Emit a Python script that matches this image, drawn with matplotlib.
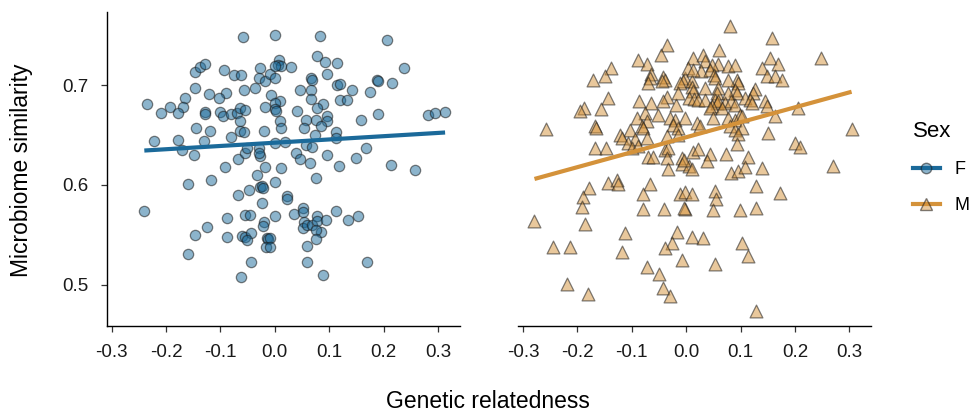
import numpy as np
import matplotlib
matplotlib.use("Agg")
import matplotlib.pyplot as plt
from matplotlib.lines import Line2D

plt.rcParams['font.family'] = ['Liberation Sans', 'DejaVu Sans']

# female (F): genetic relatedness vs microbiome similarity
f_x = [-0.059, 0.000, -0.147, -0.138, -0.128, -0.094, -0.075, -0.062, -0.027, -0.029,
       -0.018, -0.009, -0.147, -0.122, -0.090, -0.103, -0.057, -0.037, -0.008, -0.165,
       -0.168, -0.192, -0.178, -0.210, -0.235, -0.128, -0.129, -0.100, -0.095, -0.081,
       -0.070, -0.064, -0.054, -0.019, -0.145, -0.119, -0.064, -0.064, -0.057, -0.081,
       -0.020, -0.222, -0.179, -0.130, -0.171, -0.149, -0.067, -0.055, -0.052, -0.029,
       -0.027, -0.029, -0.091, -0.019, 0.012, 0.083, 0.206, 0.008, 0.006, 0.012,
       0.029, 0.000, 0.077, 0.092, 0.115, 0.095, 0.066, 0.068, 0.237, 0.000,
       0.115, 0.120, 0.187, 0.190, 0.215, 0.046, 0.066, 0.141, 0.175, 0.066,
       0.120, 0.132, 0.009, 0.000, 0.000, 0.002, 0.088, 0.077, 0.040, 0.190,
       0.158, 0.282, 0.294, 0.313, 0.009, 0.012, 0.057, 0.076, 0.096, 0.096,
       0.054, 0.085, 0.112, 0.112, 0.074, 0.000, 0.019, 0.058, 0.068, 0.167,
       0.039, 0.047, 0.065, 0.096, 0.150, 0.118, 0.213, 0.258, -0.033, -0.159,
       -0.118, -0.067, -0.047, -0.027, -0.024, -0.022, 0.000, -0.023, -0.240, -0.088,
       -0.055, -0.046, -0.020, -0.022, 0.000, -0.124, -0.146, -0.088, -0.061, -0.054,
       -0.043, -0.052, -0.014, -0.012, -0.016, -0.160, -0.043, -0.062, 0.076, 0.023,
       0.022, 0.035, 0.051, 0.051, 0.054, 0.052, 0.060, 0.069, 0.077, 0.077,
       0.084, 0.076, 0.075, 0.094, 0.112, 0.134, 0.153, -0.009, -0.009, 0.060,
       0.060, 0.169, 0.088]
f_y = [0.748, 0.750, 0.713, 0.718, 0.721, 0.715, 0.710, 0.710, 0.717, 0.707,
       0.704, 0.711, 0.697, 0.691, 0.692, 0.687, 0.695, 0.697, 0.690, 0.687,
       0.678, 0.678, 0.672, 0.672, 0.681, 0.673, 0.671, 0.673, 0.669, 0.671,
       0.672, 0.677, 0.675, 0.678, 0.657, 0.654, 0.664, 0.654, 0.653, 0.648,
       0.654, 0.644, 0.645, 0.644, 0.635, 0.630, 0.626, 0.632, 0.637, 0.637,
       0.629, 0.632, 0.618, 0.618, 0.617, 0.749, 0.745, 0.725, 0.720, 0.719,
       0.718, 0.719, 0.729, 0.723, 0.722, 0.711, 0.707, 0.705, 0.717, 0.707,
       0.700, 0.701, 0.705, 0.704, 0.702, 0.695, 0.695, 0.695, 0.693, 0.686,
       0.685, 0.685, 0.684, 0.682, 0.676, 0.674, 0.681, 0.677, 0.674, 0.671,
       0.665, 0.670, 0.672, 0.673, 0.664, 0.657, 0.665, 0.665, 0.669, 0.664,
       0.657, 0.659, 0.653, 0.647, 0.650, 0.642, 0.643, 0.640, 0.638, 0.637,
       0.632, 0.626, 0.622, 0.630, 0.627, 0.619, 0.620, 0.615, 0.610, 0.601,
       0.605, 0.590, 0.595, 0.598, 0.599, 0.597, 0.603, 0.582, 0.574, 0.567,
       0.570, 0.570, 0.563, 0.559, 0.569, 0.558, 0.550, 0.548, 0.549, 0.548,
       0.552, 0.545, 0.547, 0.546, 0.538, 0.531, 0.523, 0.508, 0.607, 0.589,
       0.586, 0.571, 0.577, 0.573, 0.563, 0.557, 0.560, 0.560, 0.569, 0.564,
       0.553, 0.555, 0.546, 0.565, 0.574, 0.565, 0.569, 0.547, 0.538, 0.539,
       0.523, 0.523, 0.510]

# male (M)
m_x = [-0.257, -0.035, -0.047, -0.088, -0.072, -0.139, -0.150, -0.171, -0.064, -0.067,
       -0.070, -0.042, -0.039, -0.045, -0.002, -0.006, -0.012, 0.010, 0.010, 0.013,
       -0.144, -0.156, -0.188, -0.195, -0.086, -0.064, -0.036, -0.042, -0.018, -0.015,
       0.005, 0.014, -0.076, -0.051, -0.091, -0.073, -0.030, -0.021, -0.002, -0.168,
       -0.165, -0.082, -0.079, -0.103, -0.024, -0.015, -0.122, -0.119, -0.094, -0.073,
       -0.107, -0.100, -0.088, -0.036, -0.015, -0.168, -0.148, -0.070, -0.061, -0.039,
       -0.033, -0.036, -0.008, 0.013, -0.034, -0.008, 0.005, 0.010,
       0.080, 0.157, 0.060, 0.248, 0.013, 0.031, 0.034, 0.059, 0.077, 0.090,
       0.047, 0.004, 0.028, 0.044, 0.013, 0.154, 0.169, 0.139, 0.148, 0.163,
       0.176, 0.051, 0.053, 0.093, 0.096, 0.077, 0.034, 0.059, 0.056, 0.090,
       0.093, 0.077, 0.126, 0.123, 0.022, 0.034, 0.053, 0.056, 0.059, 0.071,
       0.083, 0.090, 0.108, 0.117, 0.120, 0.145, 0.148, 0.206, 0.047, 0.044,
       0.065, 0.050, 0.077, 0.090, 0.099, 0.102, 0.019, 0.025, 0.163, 0.080,
       0.090, 0.102, 0.096, 0.151, 0.304, 0.022, 0.044, 0.038, 0.074, 0.093,
       0.114, 0.200, 0.209, -0.004, 0.083, 0.096, 0.108, 0.140, 0.269,
       -0.179, -0.189, -0.191, -0.144, -0.128, -0.126, -0.067, -0.079, -0.079, -0.041,
       -0.002, -0.004, -0.012, -0.002, 0.010, -0.279, -0.186, -0.113, -0.017, -0.027,
       -0.039, 0.010, -0.245, -0.213, -0.118, -0.007, -0.073, -0.050, -0.220, -0.042,
       -0.030, -0.181,
       0.129, 0.172, 0.053, 0.054, 0.050, 0.099, 0.129, 0.031, 0.102, 0.114,
       0.053, 0.129]
m_y = [0.656, 0.740, 0.730, 0.725, 0.721, 0.717, 0.709, 0.705, 0.711, 0.707,
       0.702, 0.708, 0.705, 0.704, 0.707, 0.704, 0.702, 0.704, 0.698, 0.694,
       0.687, 0.676, 0.677, 0.674, 0.684, 0.682, 0.688, 0.684, 0.680, 0.692,
       0.687, 0.686, 0.672, 0.670, 0.667, 0.664, 0.667, 0.665, 0.667, 0.659,
       0.657, 0.659, 0.657, 0.655, 0.660, 0.657, 0.650, 0.647, 0.646, 0.647,
       0.642, 0.637, 0.639, 0.649, 0.650, 0.637, 0.637, 0.628, 0.628, 0.635,
       0.637, 0.627, 0.627, 0.633, 0.616, 0.621, 0.619, 0.616,
       0.759, 0.747, 0.735, 0.727, 0.727, 0.730, 0.724, 0.721, 0.719, 0.720,
       0.720, 0.717, 0.714, 0.715, 0.715, 0.727, 0.721, 0.717, 0.709, 0.709,
       0.705, 0.710, 0.707, 0.705, 0.702, 0.705, 0.697, 0.697, 0.692, 0.695,
       0.692, 0.692, 0.696, 0.692, 0.685, 0.685, 0.685, 0.682, 0.684, 0.682,
       0.684, 0.680, 0.687, 0.685, 0.682, 0.684, 0.679, 0.677, 0.679, 0.677,
       0.677, 0.667, 0.667, 0.665, 0.670, 0.669, 0.662, 0.659, 0.669, 0.659,
       0.655, 0.657, 0.651, 0.652, 0.656, 0.636, 0.631, 0.624, 0.631, 0.641,
       0.628, 0.642, 0.638, 0.625, 0.612, 0.614, 0.618, 0.617, 0.619,
       0.597, 0.588, 0.578, 0.602, 0.605, 0.601, 0.601, 0.591, 0.576, 0.576,
       0.576, 0.577, 0.591, 0.593, 0.591, 0.564, 0.561, 0.552, 0.553, 0.542,
       0.537, 0.548, 0.538, 0.538, 0.533, 0.525, 0.518, 0.511, 0.501, 0.496,
       0.488, 0.490,
       0.599, 0.592, 0.594, 0.586, 0.575, 0.575, 0.577, 0.547, 0.542, 0.529,
       0.521, 0.473]

# linear fits (intercept, slope)
f_fit = (0.6422, 0.0327)
m_fit = (0.6477, 0.150)

f_color = '#1B6A9A'
m_color = '#D4923A'
xticks = [-0.3, -0.2, -0.1, 0.0, 0.1, 0.2, 0.3]
xticklabels = ['-0.3', '-0.2', '-0.1', '0.0', '0.1', '0.2', '0.3']
yticks = [0.5, 0.6, 0.7]
xlim = (-0.309, 0.340)
ylim = (0.4587, 0.7733)

fig = plt.figure(figsize=(9.7, 4.13), dpi=100)
ax1 = fig.add_axes([0.1101, 0.2114, 0.3639, 0.7596])
ax2 = fig.add_axes([0.5342, 0.2114, 0.3639, 0.7596])

panels = [(ax1, f_x, f_y, f_fit, f_color, 'o', 55),
          (ax2, m_x, m_y, m_fit, m_color, '^', 85)]
for ax, xs, ys, fit, col, mk, sz in panels:
    rgb = matplotlib.colors.to_rgb(col)
    ax.scatter(xs, ys, s=sz, marker=mk, facecolor=rgb + (0.5,),
               edgecolor=(0.1, 0.1, 0.1, 0.55), linewidths=0.9, zorder=2)
    xx = np.array([min(xs), max(xs)])
    ax.plot(xx, fit[0] + fit[1] * xx, color=col, lw=3, zorder=3,
            solid_capstyle='butt')
    ax.set_xlim(*xlim)
    ax.set_ylim(*ylim)
    ax.set_xticks(xticks)
    ax.set_xticklabels(xticklabels)
    ax.tick_params(axis='both', labelsize=13.5, length=4.5, width=0.9,
                   color='#333333', labelcolor='#1a1a1a', pad=8.5)
    for s in ['top', 'right']:
        ax.spines[s].set_visible(False)
    ax.spines['bottom'].set_linewidth(1.0)
    ax.spines['left'].set_linewidth(1.0)

ax1.set_yticks(yticks)
ax1.set_yticklabels(['0.5', '0.6', '0.7'])
ax2.set_yticks([])
ax2.spines['left'].set_visible(False)

fig.text(0.0224, 0.588, 'Microbiome similarity', rotation=90, fontsize=16.5,
         ha='center', va='center')
fig.text(0.5026, 0.027, 'Genetic relatedness', fontsize=16.5, ha='center', va='center')

handles = [Line2D([], [], color=f_color, lw=3, marker='o', markersize=7.5,
                  markerfacecolor=matplotlib.colors.to_rgb(f_color) + (0.5,),
                  markeredgecolor=(0.1, 0.1, 0.1, 0.55)),
           Line2D([], [], color=m_color, lw=3, marker='^', markersize=8.5,
                  markerfacecolor=matplotlib.colors.to_rgb(m_color) + (0.5,),
                  markeredgecolor=(0.1, 0.1, 0.1, 0.55))]
leg = fig.legend(handles, ['F', 'M'], title='Sex', loc='upper left',
                 bbox_to_anchor=(0.926, 0.741), frameon=False, fontsize=13,
                 title_fontsize=16, handlelength=1.5, handletextpad=0.8,
                 labelspacing=1.05, borderpad=0.3)
leg._legend_box.align = 'left'

fig.savefig('out.png', dpi=100)
